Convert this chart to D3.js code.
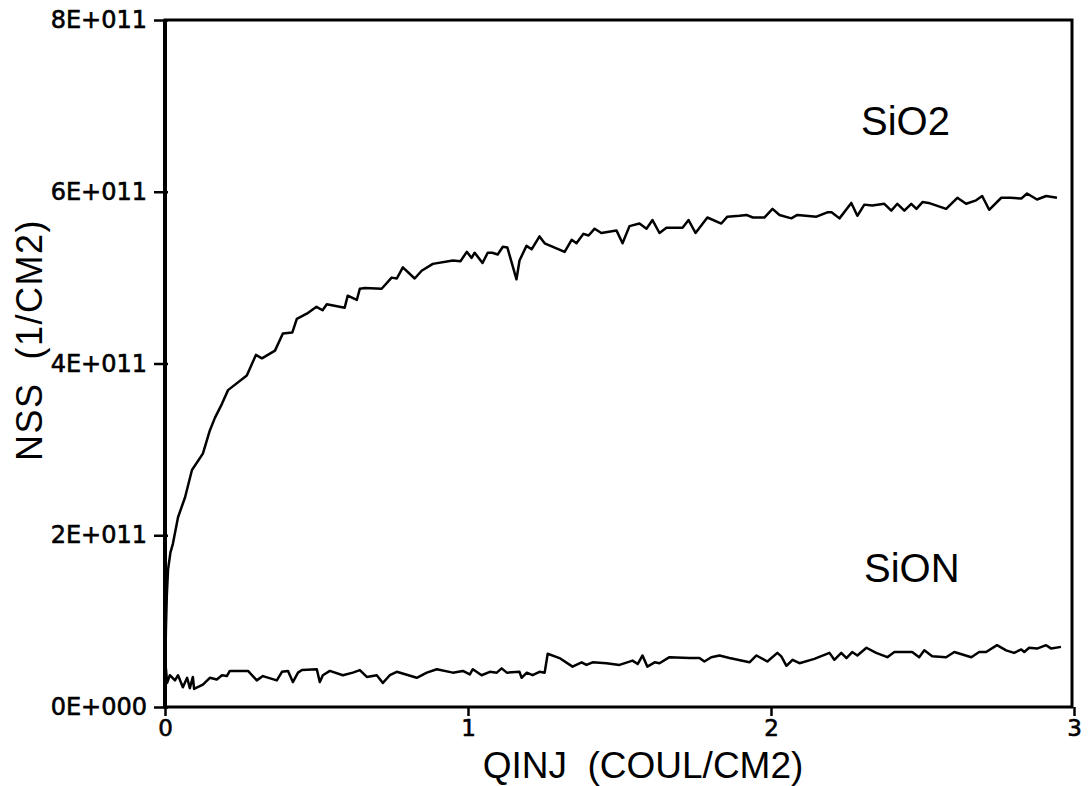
<!DOCTYPE html>
<html>
<head>
<meta charset="utf-8">
<script src="https://cdn.jsdelivr.net/npm/d3@7"></script>
<style>
  body { margin: 0; background: #fff; }
  text { white-space: pre; }
</style>
</head>
<body>
<div id="chart"></div>
<script>
// NSS vs QINJ, SiO2 and SiON

// values in units of 1E+011
const yUnit = 1e11;

const sio2X = [0, 0.003, 0.006, 0.01, 0.018, 0.026, 0.043, 0.066, 0.089, 0.125, 0.148, 0.165, 0.188, 0.208, 0.27, 0.30, 0.32, 0.363, 0.389, 0.42, 0.435, 0.468, 0.50, 0.52, 0.534, 0.593, 0.603, 0.633, 0.643, 0.66, 0.715, 0.748, 0.765, 0.785, 0.824, 0.847, 0.884, 0.95, 0.975, 0.996, 1.012, 1.022, 1.048, 1.065, 1.08, 1.098, 1.115, 1.13, 1.16, 1.17, 1.193, 1.21, 1.236, 1.253, 1.319, 1.342, 1.358, 1.381, 1.398, 1.418, 1.44, 1.49, 1.51, 1.533, 1.566, 1.589, 1.609, 1.632, 1.655, 1.708, 1.728, 1.751, 1.79, 1.836, 1.856, 1.896, 1.919, 1.94, 1.978, 2.005, 2.028, 2.067, 2.087, 2.15, 2.186, 2.2, 2.226, 2.265, 2.285, 2.308, 2.334, 2.374, 2.397, 2.417, 2.44, 2.463, 2.48, 2.5, 2.52, 2.578, 2.615, 2.644, 2.677, 2.697, 2.72, 2.76, 2.79, 2.826, 2.845, 2.878, 2.908, 2.944];
const sio2Y = [0.3, 0.9, 1.3, 1.6, 1.8, 1.9, 2.21, 2.44, 2.76, 2.95, 3.22, 3.37, 3.53, 3.69, 3.86, 4.10, 4.06, 4.15, 4.35, 4.36, 4.52, 4.58, 4.66, 4.62, 4.69, 4.65, 4.79, 4.74, 4.87, 4.88, 4.87, 5.0, 4.99, 5.12, 4.99, 5.08, 5.16, 5.20, 5.19, 5.30, 5.23, 5.29, 5.17, 5.29, 5.29, 5.27, 5.36, 5.35, 4.98, 5.20, 5.37, 5.33, 5.48, 5.40, 5.30, 5.44, 5.40, 5.51, 5.49, 5.57, 5.52, 5.55, 5.40, 5.60, 5.63, 5.57, 5.67, 5.52, 5.58, 5.58, 5.67, 5.52, 5.70, 5.63, 5.71, 5.72, 5.73, 5.70, 5.70, 5.80, 5.73, 5.69, 5.73, 5.71, 5.76, 5.76, 5.69, 5.87, 5.72, 5.85, 5.84, 5.86, 5.78, 5.86, 5.78, 5.86, 5.80, 5.88, 5.87, 5.80, 5.93, 5.86, 5.90, 5.95, 5.79, 5.93, 5.93, 5.92, 5.98, 5.91, 5.95, 5.93];

const sionX = [0, 0.003, 0.007, 0.016, 0.033, 0.043, 0.059, 0.073, 0.082, 0.092, 0.096, 0.125, 0.148, 0.171, 0.188, 0.204, 0.214, 0.274, 0.303, 0.323, 0.369, 0.386, 0.406, 0.422, 0.439, 0.452, 0.501, 0.511, 0.521, 0.544, 0.587, 0.62, 0.643, 0.666, 0.699, 0.719, 0.742, 0.765, 0.831, 0.864, 0.897, 0.95, 0.983, 1.006, 1.016, 1.045, 1.072, 1.095, 1.111, 1.128, 1.17, 1.177, 1.194, 1.213, 1.236, 1.253, 1.263, 1.302, 1.345, 1.375, 1.391, 1.411, 1.457, 1.5, 1.543, 1.56, 1.576, 1.592, 1.616, 1.632, 1.665, 1.731, 1.764, 1.78, 1.803, 1.83, 1.863, 1.929, 1.952, 1.988, 2.021, 2.034, 2.051, 2.071, 2.094, 2.143, 2.193, 2.209, 2.232, 2.249, 2.268, 2.285, 2.315, 2.347, 2.384, 2.407, 2.466, 2.489, 2.506, 2.532, 2.578, 2.605, 2.661, 2.687, 2.71, 2.746, 2.776, 2.802, 2.826, 2.836, 2.852, 2.878, 2.908, 2.925, 2.957];
const sionY = [0.25, 0.45, 0.28, 0.37, 0.31, 0.37, 0.23, 0.34, 0.22, 0.35, 0.21, 0.26, 0.34, 0.32, 0.37, 0.36, 0.42, 0.42, 0.31, 0.36, 0.31, 0.41, 0.42, 0.29, 0.40, 0.43, 0.44, 0.29, 0.37, 0.42, 0.37, 0.40, 0.43, 0.35, 0.37, 0.28, 0.37, 0.41, 0.34, 0.40, 0.44, 0.40, 0.42, 0.38, 0.44, 0.37, 0.41, 0.40, 0.45, 0.40, 0.41, 0.34, 0.40, 0.37, 0.41, 0.40, 0.62, 0.57, 0.47, 0.52, 0.49, 0.52, 0.51, 0.49, 0.54, 0.50, 0.60, 0.47, 0.52, 0.51, 0.58, 0.57, 0.57, 0.53, 0.58, 0.60, 0.57, 0.52, 0.60, 0.53, 0.63, 0.59, 0.48, 0.55, 0.51, 0.56, 0.63, 0.55, 0.63, 0.57, 0.64, 0.60, 0.69, 0.63, 0.58, 0.64, 0.64, 0.58, 0.66, 0.59, 0.58, 0.64, 0.58, 0.64, 0.64, 0.72, 0.66, 0.63, 0.67, 0.64, 0.69, 0.68, 0.72, 0.68, 0.70];

const xTicks = [0, 1, 2, 3];
const yTicks = [0, 2e11, 4e11, 6e11, 8e11];
const yTickLabels = ["0E+000", "2E+011", "4E+011", "6E+011", "8E+011"];

const seriesNames = ["SiO2", "SiON"];

const width = 1092, height = 786;
const margin = {top: 20, right: 18, bottom: 79, left: 165};

const svg = d3.select("#chart")
    .append("svg")
    .attr("width", width)
    .attr("height", height)
    .attr("font-family", "'Liberation Sans', Arial, sans-serif");

const x = d3.scaleLinear()
    .domain([0, 3])
    .range([margin.left, width - margin.right]);

const y = d3.scaleLinear()
    .domain([0, 8e11])
    .range([height - margin.bottom, margin.top]);

// axes
const xAxis = svg.append("g")
    .attr("transform", `translate(0,${height - margin.bottom})`)
    .call(d3.axisBottom(x)
        .tickValues(xTicks)
        .tickSize(9)
        .tickSizeOuter(0)
        .tickPadding(4)
        .tickFormat(d3.format("d")));

xAxis.select(".domain").remove();
xAxis.selectAll(".tick line").attr("stroke-width", 2.5);
xAxis.selectAll(".tick text")
    .attr("font-family", "'DejaVu Sans', sans-serif")
    .attr("font-size", 23)
    .attr("fill", "#000")
    .attr("stroke", "#000")
    .attr("stroke-width", 0.6);

const yAxis = svg.append("g")
    .attr("transform", `translate(${margin.left},0)`)
    .call(d3.axisLeft(y)
        .tickValues(yTicks)
        .tickSize(11)
        .tickSizeOuter(0)
        .tickPadding(7)
        .tickFormat((d, i) => yTickLabels[i]));

yAxis.select(".domain").remove();
yAxis.selectAll(".tick line")
    .attr("x1", 3)
    .attr("stroke-width", 2.5);
yAxis.selectAll(".tick text")
    .attr("font-family", "'DejaVu Sans', sans-serif")
    .attr("font-size", 24)
    .attr("fill", "#000")
    .attr("stroke", "#000")
    .attr("stroke-width", 0.6);

// frame
svg.append("rect")
    .attr("x", x(0))
    .attr("y", y(8e11))
    .attr("width", x(3) - x(0) - 2)
    .attr("height", y(0) - y(8e11))
    .attr("fill", "none")
    .attr("stroke", "#000")
    .attr("stroke-width", 3);

svg.append("line")
    .attr("x1", x(0)).attr("x2", x(0))
    .attr("y1", y(8e11)).attr("y2", y(0))
    .attr("stroke", "#000")
    .attr("stroke-width", 4);

// curves
const line = d3.line()
    .x(d => x(d[0]))
    .y(d => y(d[1] * yUnit));

svg.append("path")
    .datum(d3.zip(sio2X, sio2Y))
    .attr("fill", "none")
    .attr("stroke", "#000")
    .attr("stroke-width", 2.5)
    .attr("stroke-linejoin", "round")
    .attr("d", line);

svg.append("path")
    .datum(d3.zip(sionX, sionY))
    .attr("fill", "none")
    .attr("stroke", "#000")
    .attr("stroke-width", 2.5)
    .attr("stroke-linejoin", "round")
    .attr("d", line);

// curve labels
svg.append("text")
    .attr("x", 861)
    .attr("y", 135)
    .attr("font-size", 40)
    .text(seriesNames[0]);

svg.append("text")
    .attr("x", 864)
    .attr("y", 582)
    .attr("font-size", 40)
    .text(seriesNames[1]);

// axis titles
svg.append("text")
    .attr("x", 643)
    .attr("y", 778)
    .attr("text-anchor", "middle")
    .attr("font-size", 37)
    .text("QINJ  (COUL/CM2)");

svg.append("text")
    .attr("transform", `translate(42,340) rotate(-90)`)
    .attr("text-anchor", "middle")
    .attr("font-size", 36)
    .attr("letter-spacing", 1.5)
    .text("NSS  (1/CM2)");
</script>
</body>
</html>
